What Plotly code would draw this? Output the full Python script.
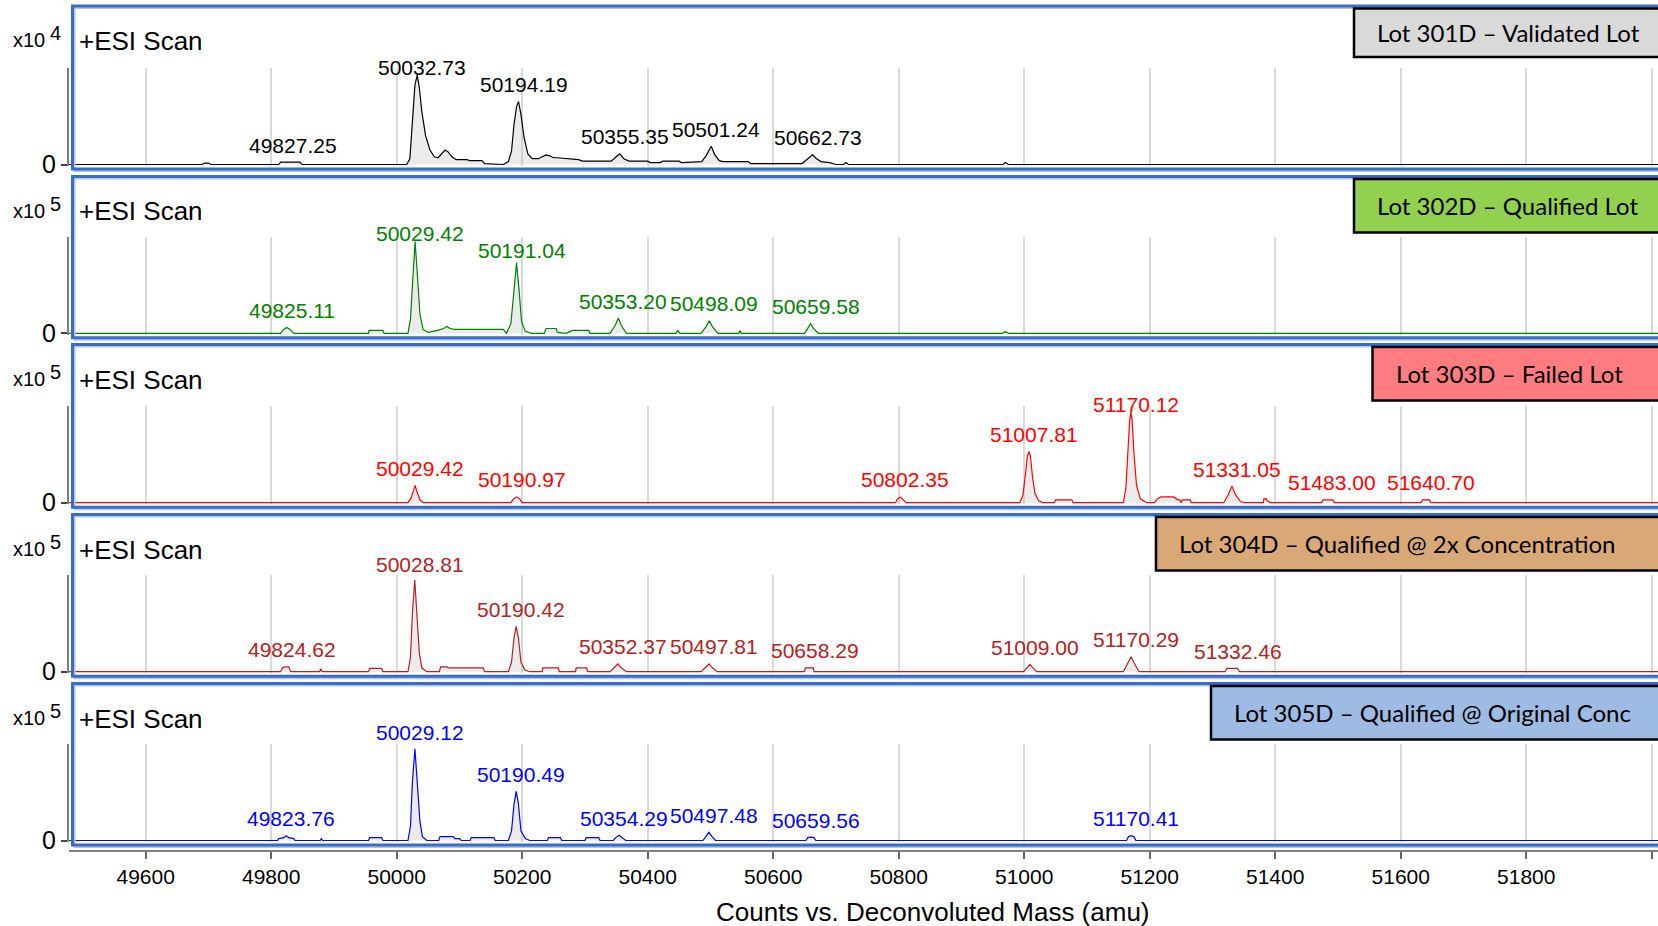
import plotly.graph_objects as go

W, H = 1658, 926

# ---------------- data ----------------
# deconvoluted spectra: (mass amu, intensity in units of the panel multiplier)
spec_301 = [(49478, 0), (49690, 0), (49694, 0.015), (49700, 0.015), (49704, 0),
            (49812, 0), (49815, 0.025), (49846, 0.025), (49849, 0),
            (50016, 0), (50021, 0.06), (50025, 0.45), (50029, 0.82), (50032.7, 0.927), (50036, 0.80),
            (50040, 0.55), (50046, 0.30), (50053, 0.15), (50060, 0.08), (50066, 0.07), (50072, 0.11),
            (50077, 0.15), (50082, 0.13), (50088, 0.08), (50095, 0.05), (50112, 0.05), (50116, 0.04),
            (50136, 0.04), (50140, 0.01), (50170, 0.0),
            (50178, 0.03), (50183, 0.14), (50187, 0.42), (50191, 0.60), (50194.2, 0.653), (50198, 0.52),
            (50203, 0.28), (50209, 0.11), (50216, 0.06), (50226, 0.06), (50232, 0.08), (50238, 0.10),
            (50244, 0.09), (50250, 0.07), (50256, 0.07), (50290, 0.05), (50296, 0.035), (50342, 0.035),
            (50348, 0.07), (50355.4, 0.11), (50362, 0.06), (50370, 0.035), (50400, 0.035), (50404, 0.02),
            (50420, 0.02), (50424, 0.035), (50450, 0.035), (50454, 0.02),
            (50486, 0.03), (50493, 0.09), (50501.2, 0.19), (50507, 0.10), (50514, 0.04), (50520, 0.03),
            (50560, 0.03), (50564, 0.01), (50646, 0.01),
            (50654, 0.05), (50662.7, 0.10), (50669, 0.06), (50676, 0.03), (50690, 0.02), (50700, 0.0),
            (50712, 0.0), (50716, 0.02), (50720, 0.0), (50966, 0.0), (50970, 0.02), (50975, 0.0), (52010, 0)]

spec_302 = [(49478, 0), (49815, 0), (49820, 0.04), (49825, 0.06), (49830, 0.04), (49836, 0),
            (49955, 0), (49956, 0.03), (49978, 0.03), (49980, 0),
            (50018, 0), (50022, 0.15), (50026, 0.60), (50029.4, 0.95), (50033, 0.60), (50037, 0.20),
            (50042, 0.04), (50050, 0.01), (50065, 0.03), (50075, 0.05), (50080, 0.07), (50085, 0.05),
            (50092, 0.04), (50170, 0.04), (50175, 0),
            (50182, 0.10), (50187, 0.45), (50191, 0.73), (50195, 0.45), (50199, 0.12), (50205, 0.02),
            (50215, 0), (50235, 0), (50238, 0.05), (50254, 0.05), (50256, 0.01), (50270, 0),
            (50280, 0.03), (50306, 0.03), (50308, 0), (50340, 0),
            (50348, 0.08), (50353.2, 0.155), (50358, 0.08), (50366, 0),
            (50445, 0), (50448, 0.03), (50451, 0), (50485, 0),
            (50493, 0.07), (50498.1, 0.13), (50503, 0.07), (50512, 0),
            (50545, 0), (50547, 0.03), (50549, 0), (50650, 0),
            (50655, 0.05), (50659.6, 0.10), (50664, 0.05), (50672, 0),
            (50965, 0), (50970, 0.02), (50975, 0), (52010, 0)]

spec_303 = [(49478, 0), (50018, 0), (50023, 0.05), (50026, 0.12), (50029.4, 0.18), (50032, 0.12),
            (50037, 0.03), (50042, 0), (50182, 0), (50186, 0.04), (50191, 0.06), (50196, 0.04), (50200, 0),
            (50795, 0), (50798, 0.04), (50802.4, 0.06), (50806, 0.04), (50812, 0),
            (50993, 0), (50998, 0.08), (51002, 0.30), (51005, 0.48), (51007.8, 0.53), (51010, 0.48),
            (51013, 0.28), (51017, 0.10), (51023, 0.02), (51030, 0),
            (51048, 0), (51050, 0.03), (51076, 0.03), (51078, 0),
            (51158, 0), (51162, 0.15), (51165, 0.50), (51168, 0.85), (51170.1, 0.94), (51172, 0.85),
            (51175, 0.50), (51179, 0.18), (51185, 0.04), (51195, 0),
            (51208, 0), (51212, 0.04), (51218, 0.06), (51238, 0.06), (51245, 0.03), (51248, 0.03),
            (51250, 0), (51252, 0.03), (51265, 0.03), (51266, 0),
            (51318, 0), (51325, 0.08), (51331, 0.17), (51337, 0.08), (51345, 0.01), (51352, 0),
            (51381, 0), (51382, 0.04), (51386, 0.04), (51387, 0.02), (51390, 0.01), (51392, 0),
            (51474, 0), (51476, 0.03), (51492, 0.03), (51494, 0),
            (51632, 0), (51635, 0.03), (51646, 0.03), (51648, 0), (52010, 0)]

spec_304 = [(49478, 0), (49815, 0), (49818, 0.04), (49822, 0.05), (49828, 0.05), (49831, 0),
            (49877, 0), (49879, 0.03), (49881, 0), (49955, 0), (49957, 0.035), (49976, 0.035), (49978, 0),
            (50018, 0), (50022, 0.15), (50025, 0.60), (50028.8, 0.95), (50032, 0.60), (50036, 0.20),
            (50040, 0.04), (50048, 0), (50068, 0), (50070, 0.05), (50080, 0.05), (50082, 0.04),
            (50138, 0.04), (50140, 0),
            (50178, 0), (50183, 0.10), (50187, 0.35), (50190.4, 0.47), (50194, 0.35), (50198, 0.10),
            (50204, 0.02), (50212, 0), (50232, 0), (50233, 0.04), (50258, 0.04), (50259, 0),
            (50285, 0), (50286, 0.04), (50303, 0.04), (50304, 0),
            (50340, 0), (50346, 0.04), (50352.4, 0.08), (50358, 0.04), (50366, 0),
            (50485, 0), (50492, 0.04), (50497.8, 0.08), (50503, 0.04), (50511, 0),
            (50650, 0), (50651, 0.04), (50664, 0.04), (50665, 0),
            (50999, 0), (51004, 0.04), (51009, 0.075), (51014, 0.04), (51020, 0),
            (51158, 0), (51164, 0.08), (51170.3, 0.155), (51176, 0.08), (51183, 0),
            (51320, 0), (51323, 0.035), (51340, 0.035), (51343, 0), (52010, 0)]

spec_305 = [(49478, 0), (49810, 0), (49812, 0.02), (49820, 0.03), (49824, 0.05), (49828, 0.03),
            (49836, 0.02), (49838, 0), (49878, 0), (49880, 0.02), (49882, 0),
            (49955, 0), (49957, 0.03), (49976, 0.03), (49978, 0),
            (50018, 0), (50022, 0.15), (50025, 0.60), (50029.1, 0.95), (50033, 0.60), (50037, 0.20),
            (50041, 0.04), (50048, 0), (50067, 0), (50069, 0.04), (50090, 0.04), (50093, 0.02),
            (50100, 0.02), (50103, 0), (50117, 0), (50119, 0.03), (50155, 0.03), (50157, 0),
            (50178, 0), (50183, 0.10), (50187, 0.38), (50190.5, 0.51), (50194, 0.38), (50198, 0.10),
            (50205, 0.02), (50212, 0), (50240, 0), (50242, 0.03), (50261, 0.03), (50263, 0),
            (50300, 0), (50302, 0.03), (50322, 0.03), (50324, 0),
            (50345, 0), (50349, 0.03), (50354.3, 0.055), (50359, 0.03), (50365, 0),
            (50488, 0), (50493, 0.045), (50497.5, 0.085), (50502, 0.045), (50508, 0),
            (50652, 0), (50655, 0.03), (50660, 0.035), (50665, 0.03), (50668, 0),
            (51163, 0), (51166, 0.04), (51170.4, 0.05), (51175, 0.04), (51178, 0), (52010, 0)]

# labelled peaks: (mass, apex intensity)
peaks_301 = [(49827.25, 0.025), (50032.73, 0.927), (50194.19, 0.653), (50355.35, 0.11),
             (50501.24, 0.19), (50662.73, 0.10)]
peaks_302 = [(49825.11, 0.06), (50029.42, 0.95), (50191.04, 0.73), (50353.20, 0.155),
             (50498.09, 0.13), (50659.58, 0.10)]
peaks_303 = [(50029.42, 0.18), (50190.97, 0.06), (50802.35, 0.06), (51007.81, 0.53),
             (51170.12, 0.94), (51331.05, 0.17), (51483.00, 0.03), (51640.70, 0.03)]
peaks_304 = [(49824.62, 0.05), (50028.81, 0.95), (50190.42, 0.47), (50352.37, 0.08),
             (50497.81, 0.08), (50658.29, 0.04), (51009.00, 0.075), (51170.29, 0.155), (51332.46, 0.035)]
peaks_305 = [(49823.76, 0.05), (50029.12, 0.95), (50190.49, 0.51), (50354.29, 0.055),
             (50497.48, 0.085), (50659.56, 0.035), (51170.41, 0.05)]

lot_labels = ["Lot 301D \u2013 Validated Lot", "Lot 302D \u2013 Qualified Lot", "Lot 303D \u2013 Failed Lot",
              "Lot 304D \u2013 Qualified @ 2x Concentration", "Lot 305D \u2013 Qualified @ Original Conc"]
exponents = ["4", "5", "5", "5", "5"]
x_tick_vals = [49600, 49800, 50000, 50200, 50400, 50600, 50800, 51000, 51200, 51400, 51600, 51800, 52000]
x_tick_text = ["49600", "49800", "50000", "50200", "50400", "50600", "50800", "51000", "51200",
               "51400", "51600", "51800", ""]
x_title = "Counts vs. Deconvoluted Mass (amu)"

# ---------------- styles / layout ----------------
spectra = [spec_301, spec_302, spec_303, spec_304, spec_305]
peaks = [peaks_301, peaks_302, peaks_303, peaks_304, peaks_305]
colors = ["#000000", "#008000", "#FF0000", "#B22222", "#0000FF"]
box_fill = ["#D9D9D9", "#92D050", "#FF7C80", "#D9A877", "#9DBBE3"]
box_x0 = [1354, 1354, 1372.5, 1156, 1211]
box_text_pad = 21
baselines = [164.5, 333.3, 502.7, 671.7, 840.5]
tops = [6, 176.5, 344.5, 514.5, 683.5]
plot_h = 96.5
x_left = 69
x_range = [49477.8, 52010]
# per-label extra lift (px) for the capped labels of the tallest peaks
lift_override = {(0, 1): 8, (1, 1): 8, (1, 2): 12, (2, 4): 7, (3, 1): 16, (4, 1): 16}
FONT = "Liberation Sans, Arial, sans-serif"
BLUE = "#3A6CC6"
LBLUE = "#AFC6EC"


def py(p):
    return 1 - p / H


def px(p):
    return p / W


fig = go.Figure()
layout = dict(width=W, height=H, autosize=False,
              margin=dict(l=0, r=0, t=0, b=0, pad=0, autoexpand=False), paper_bgcolor="white",
              plot_bgcolor="white", showlegend=False, shapes=[], annotations=[], template="none")

for i in range(5):
    sfx = "" if i == 0 else str(i + 1)
    m, c = zip(*spectra[i])
    fig.add_trace(go.Scatter(x=list(m), y=list(c), xaxis="x" + sfx, yaxis="y" + sfx, mode="lines",
                             line=dict(color=colors[i], width=1.2), fill="tozeroy",
                             fillcolor="rgba(190,190,190,0.3)", hoverinfo="skip", showlegend=False))
    B = baselines[i]
    lo = 1.2 / plot_h
    layout["xaxis" + sfx] = dict(domain=[px(x_left), 1], range=x_range, anchor="y" + sfx,
                                 showgrid=True, gridcolor="#D9D9D9", gridwidth=2, tick0=0, dtick=200,
                                 showticklabels=False, ticks="", zeroline=False, showline=False,
                                 automargin=False, fixedrange=True)
    layout["yaxis" + sfx] = dict(domain=[py(B + 1.2), py(B - plot_h)], range=[-lo, 1.0],
                                 anchor="x" + sfx, showline=True, linecolor="#7F7F7F", linewidth=2,
                                 ticks="outside", ticklen=6, tickwidth=1.5, tickcolor="#444",
                                 tickvals=[0], ticktext=["0"],
                                 tickfont=dict(family=FONT, size=25, color="black"),
                                 showgrid=False, zeroline=False, automargin=False, fixedrange=True)

    T = tops[i]
    # panel frame (light shadow + blue)
    layout["shapes"].append(dict(type="rect", xref="paper", yref="paper", x0=px(74.5), x1=px(1700),
                                 y0=py(B + 6.5), y1=py(T + 2), line=dict(color=LBLUE, width=2)))
    layout["shapes"].append(dict(type="rect", xref="paper", yref="paper", x0=px(72.5), x1=px(1700),
                                 y0=py(B + 4.5), y1=py(T), line=dict(color=BLUE, width=3)))
    # lot label box
    bh = 48.5 if i == 0 else 53.5
    by0 = T + 2.5
    layout["shapes"].append(dict(type="rect", xref="paper", yref="paper", x0=px(box_x0[i]), x1=px(1700),
                                 y0=py(by0 + bh), y1=py(by0), fillcolor=box_fill[i],
                                 line=dict(color="black", width=2.5)))
    layout["annotations"].append(dict(xref="paper", yref="paper", x=px(box_x0[i] + box_text_pad),
                                      y=py(by0 + bh / 2), text=lot_labels[i], showarrow=False,
                                      xanchor="left", yanchor="middle",
                                      font=dict(family="Lato, Carlito, sans-serif", size=24, color="black")))
    # scale label and scan type
    layout["annotations"].append(dict(xref="paper", yref="paper", x=px(46.5), y=py(T + 34), text="x10",
                                      showarrow=False, xanchor="right", yanchor="middle",
                                      font=dict(family=FONT, size=20, color="black")))
    layout["annotations"].append(dict(xref="paper", yref="paper", x=px(47.5), y=py(T + 27),
                                      text=exponents[i], showarrow=False, xanchor="left", yanchor="middle",
                                      font=dict(family=FONT, size=20, color="black")))
    layout["annotations"].append(dict(xref="paper", yref="paper", x=px(77), y=py(T + 35),
                                      text="+ESI Scan", showarrow=False, xanchor="left", yanchor="middle",
                                      font=dict(family=FONT, size=26, color="black")))
    # peak labels
    for j, (pm, ph) in enumerate(peaks[i]):
        lift = lift_override.get((i, j), 17)
        layout["annotations"].append(dict(xref="x" + sfx, yref="y" + sfx, x=pm, y=ph,
                                          text="%.2f" % pm, showarrow=False, xanchor="center",
                                          yanchor="middle", xshift=5, yshift=lift,
                                          font=dict(family=FONT, size=21, color=colors[i])))

# bottom mass axis
fig.add_trace(go.Scatter(x=[50000], y=[-10], xaxis="x6", yaxis="y6", mode="markers",
                         marker=dict(opacity=0), hoverinfo="skip", showlegend=False))
layout["xaxis6"] = dict(domain=[px(x_left), 1], range=x_range, anchor="y6", showline=True,
                        linecolor="#808080", linewidth=2, ticks="outside", ticklen=7, tickwidth=2,
                        tickcolor="#666", tickvals=x_tick_vals, ticktext=x_tick_text,
                        tickfont=dict(family=FONT, size=21, color="black"), showgrid=False,
                        zeroline=False, automargin=False, fixedrange=True)
layout["yaxis6"] = dict(domain=[py(850), py(849)], range=[0, 1], visible=False, automargin=False,
                        fixedrange=True)
layout["annotations"].append(dict(xref="paper", yref="paper", x=px(932.6), y=py(912), text=x_title,
                                  showarrow=False, xanchor="center", yanchor="middle",
                                  font=dict(family=FONT, size=26, color="black")))

fig.update_layout(**layout)
fig.write_html("out.html",
               post_script="document.body.style.margin='0';document.body.style.overflow='hidden';")
